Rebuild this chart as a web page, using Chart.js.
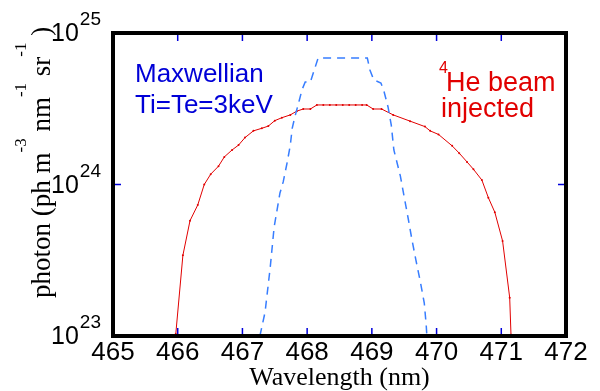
<!DOCTYPE html>
<html>
<head>
<meta charset="utf-8">
<script src="https://cdn.jsdelivr.net/npm/chart.js@4.4.1/dist/chart.umd.min.js"></script>
<style>
  html, body { margin: 0; padding: 0; background: #fff; }
  #wrap { width: 600px; height: 391px; }
</style>
</head>
<body>
<div id="wrap"><canvas id="chart" width="600" height="391"></canvas></div>
<script>
// axis ticks
const xTicks = [465, 466, 467, 468, 469, 470, 471, 472];
const yTicks = [1e23, 1e24, 1e25];
const yTickExp = ["23", "24", "25"];

// 4He beam injected (red, markers)
const redWavelength = [
  465.97, 466.08, 466.19, 466.31, 466.41, 466.51, 466.63, 466.72, 466.84, 466.94,
  467.04, 467.17, 467.30, 467.40, 467.50, 467.61, 467.74, 467.84, 467.94, 468.05,
  468.15, 468.25, 468.35, 468.45, 468.55, 468.65, 468.75, 468.85, 468.92, 469.02,
  469.15, 469.33, 469.59, 469.82, 469.90, 470.03, 470.24, 470.35, 470.47, 470.57,
  470.70, 470.80, 470.90, 471.02, 471.13, 471.15
];
const redPhoton = [
  1.03e23, 3.41e23, 5.77e23, 7.33e23, 1.0e24, 1.17e24, 1.32e24, 1.52e24, 1.69e24, 1.82e24,
  2.04e24, 2.26e24, 2.35e24, 2.43e24, 2.64e24, 2.76e24, 2.88e24, 3.05e24, 3.15e24, 3.15e24,
  3.35e24, 3.35e24, 3.35e24, 3.35e24, 3.35e24, 3.35e24, 3.35e24, 3.35e24, 3.35e24, 3.15e24,
  3.15e24, 2.88e24, 2.62e24, 2.41e24, 2.26e24, 2.14e24, 1.80e24, 1.61e24, 1.41e24, 1.26e24,
  1.07e24, 8.19e23, 6.56e23, 4.24e23, 1.79e23, 1.02e23
];

// Maxwellian Ti=Te=3keV (blue, dashed)
const blueWavelength = [
  467.27, 467.35, 467.43, 467.49, 467.58, 467.63, 467.69, 467.74, 467.77, 467.81,
  467.88, 467.92, 467.97, 468.05, 468.17, 468.93, 468.97, 469.03, 469.14, 469.19,
  469.25, 469.30, 469.34, 469.44, 469.50, 469.56, 469.62, 469.68, 469.75, 469.81,
  469.84, 469.85
];
const bluePhoton = [
  1.0e23, 1.44e23, 2.85e23, 5.24e23, 8.79e23, 1.04e24, 1.39e24, 1.82e24, 2.36e24, 2.79e24,
  3.61e24, 4.21e24, 4.75e24, 4.75e24, 6.84e24, 6.84e24, 5.70e24, 4.90e24, 4.68e24, 4.08e24,
  3.25e24, 2.47e24, 1.69e24, 1.14e24, 8.26e23, 6.01e23, 4.31e23, 3.18e23, 2.27e23, 1.65e23,
  1.18e23, 1.0e23
];

const RED = "rgb(225,0,0)";
const LINE_BLUE = "rgb(55,125,255)";
const TEXT_BLUE = "rgb(0,0,215)";
const SANS = '"Liberation Sans", Arial, sans-serif';
const SERIF = '"Liberation Serif", "Times New Roman", serif';

const toPoints = (xs, ys) => xs.map((x, i) => ({ x: x, y: ys[i] }));

// frame, inner ticks, y labels with exponents, y title and notes
const decorPlugin = {
  id: "decor",
  afterDatasetsDraw(chart) {
    const { ctx, chartArea: a, scales } = chart;
    const xs = scales.x, ys = scales.y;
    ctx.save();

    ctx.strokeStyle = "rgb(0,0,220)";
    ctx.lineWidth = 1.5;
    ctx.beginPath();
    xTicks.forEach((v) => {
      const px = xs.getPixelForValue(v);
      ctx.moveTo(px, a.bottom); ctx.lineTo(px, a.bottom - 8);
      ctx.moveTo(px, a.top); ctx.lineTo(px, a.top + 8);
    });
    yTicks.forEach((v) => {
      const py = ys.getPixelForValue(v);
      ctx.moveTo(a.left, py); ctx.lineTo(a.left + 8, py);
      ctx.moveTo(a.right, py); ctx.lineTo(a.right - 8, py);
    });
    ctx.stroke();

    ctx.strokeStyle = "#000";
    ctx.lineWidth = 4;
    ctx.strokeRect(a.left, a.top, a.width, a.height);

    // y tick labels 10^n
    ctx.fillStyle = "#000";
    ctx.textBaseline = "alphabetic";
    ctx.textAlign = "right";
    yTicks.forEach((v, i) => {
      const py = ys.getPixelForValue(v);
      const right = a.left - 12;
      ctx.font = "19px " + SANS;
      const w = ctx.measureText(yTickExp[i]).width;
      ctx.fillText(yTickExp[i], right, py - 8);
      ctx.font = "25px " + SANS;
      ctx.fillText("10", right - w - 1, py + 8);
    });

    // y title with superscripts
    const parts = [
      ["photon (ph m", false], ["-3", true], [" nm", false], ["-1", true],
      [" sr", false], ["-1", true], [" )", false]
    ];
    ctx.save();
    ctx.translate(50, 298);
    ctx.rotate(-Math.PI / 2);
    ctx.textAlign = "left";
    let u = 0;
    parts.forEach(([t, sup]) => {
      ctx.font = (sup ? "17px " : "27px ") + SERIF;
      ctx.fillText(t, u, sup ? -24 : 0);
      u += ctx.measureText(t).width;
    });
    ctx.restore();

    // notes
    ctx.textAlign = "left";
    ctx.fillStyle = TEXT_BLUE;
    ctx.font = "26px " + SANS;
    ctx.fillText("Maxwellian", 135, 82);
    ctx.fillText("Ti=Te=3keV", 135, 113);

    ctx.fillStyle = RED;
    ctx.font = "16px " + SANS;
    ctx.fillText("4", 439, 73);
    ctx.font = "27px " + SANS;
    ctx.fillText("He beam", 446, 91);
    ctx.fillText("injected", 441, 117);

    ctx.restore();
  }
};

new Chart(document.getElementById("chart"), {
  type: "line",
  data: {
    datasets: [
      {
        label: "Maxwellian",
        data: toPoints(blueWavelength, bluePhoton),
        borderColor: LINE_BLUE,
        borderWidth: 1.5,
        borderDash: [8, 6],
        pointRadius: 0,
        tension: 0
      },
      {
        label: "4He beam injected",
        data: toPoints(redWavelength, redPhoton),
        borderColor: RED,
        backgroundColor: RED,
        borderWidth: 1,
        pointRadius: 1,
        pointBorderWidth: 0,
        pointBackgroundColor: RED,
        tension: 0
      }
    ]
  },
  options: {
    responsive: false,
    animation: false,
    layout: { padding: { left: 0, right: 34, top: 33, bottom: 0 } },
    plugins: { legend: { display: false }, tooltip: { enabled: false } },
    scales: {
      x: {
        type: "linear",
        min: 465,
        max: 472,
        afterBuildTicks: (s) => { s.ticks = xTicks.map((v) => ({ value: v })); },
        afterFit: (s) => { s.height = 55; },
        grid: { display: false, drawTicks: false },
        border: { display: false },
        ticks: {
          autoSkip: false,
          maxRotation: 0,
          padding: 1,
          color: "#000",
          font: { family: SANS, size: 26 }
        },
        title: {
          display: true,
          text: "Wavelength (nm)",
          color: "#000",
          padding: 0,
          font: { family: SERIF, size: 26, lineHeight: 1 }
        }
      },
      y: {
        type: "logarithmic",
        min: 1e23,
        max: 1e25,
        afterBuildTicks: (s) => { s.ticks = yTicks.map((v) => ({ value: v })); },
        afterFit: (s) => { s.width = 113; },
        grid: { display: false, drawTicks: false },
        border: { display: false },
        ticks: { display: false }
      }
    }
  },
  plugins: [decorPlugin]
});
</script>
</body>
</html>
